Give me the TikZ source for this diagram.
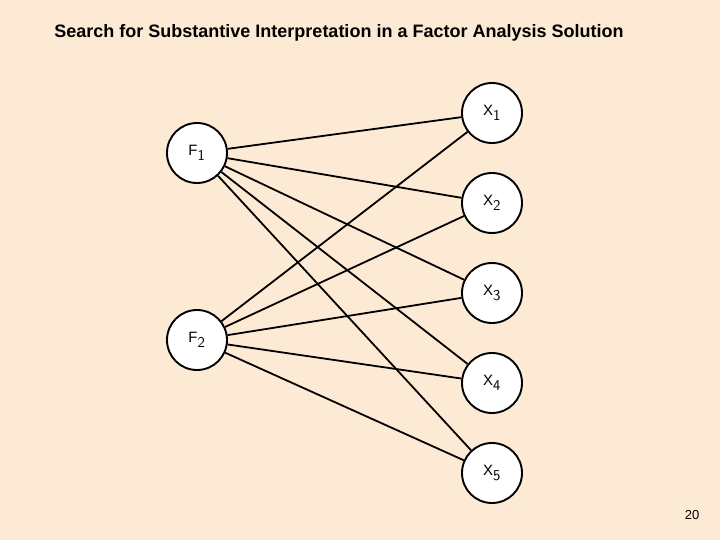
\documentclass[tikz,border=0pt]{standalone}
\usepackage{fontspec}
\setmainfont{Liberation Sans}
\usepackage{tikz}
\usetikzlibrary{positioning}
\definecolor{slidebg}{RGB}{253,234,213}

\begin{document}
\begin{tikzpicture}[x=1pt, y=-1pt]
    \tikzset{
        var node/.style={
                circle, draw=black, line width=1.9pt, fill=white,
                minimum size=60pt, inner sep=0pt, font=\fontsize{15}{17}\selectfont
            },
        load line/.style={
                line width=1.8pt, draw=black
            }
    }

    % background
    \fill[slidebg] (0,0) rectangle (720,540);
    \useasboundingbox (0,0) rectangle (720,540);

    \node[font=\bfseries\fontsize{18}{20}\selectfont] (title) at (339,33) {Search for Substantive Interpretation in a Factor Analysis Solution};

    % factors
    \node[var node] (F1) at (197,153) {F$_{\textsf{1}}$};
    \node[var node] (F2) at (197,340) {F$_{\textsf{2}}$};

    % observed variables
    \node[var node] (X1) at (492,113) {X$_{\textsf{1}}$};
    \node[var node] (X2) at (492,203) {X$_{\textsf{2}}$};
    \node[var node] (X3) at (492,293) {X$_{\textsf{3}}$};
    \node[var node] (X4) at (492,383) {X$_{\textsf{4}}$};
    \node[var node] (X5) at (492,473) {X$_{\textsf{5}}$};

    % loadings
    \foreach \f in {F1, F2} {
        \foreach \x in {X1, X2, X3, X4, X5} {
            \draw[load line] (\f) -- (\x);
        }
    }

    \node[font=\fontsize{13}{15}\selectfont] (page) at (692,515) {20};
\end{tikzpicture}
\end{document}
